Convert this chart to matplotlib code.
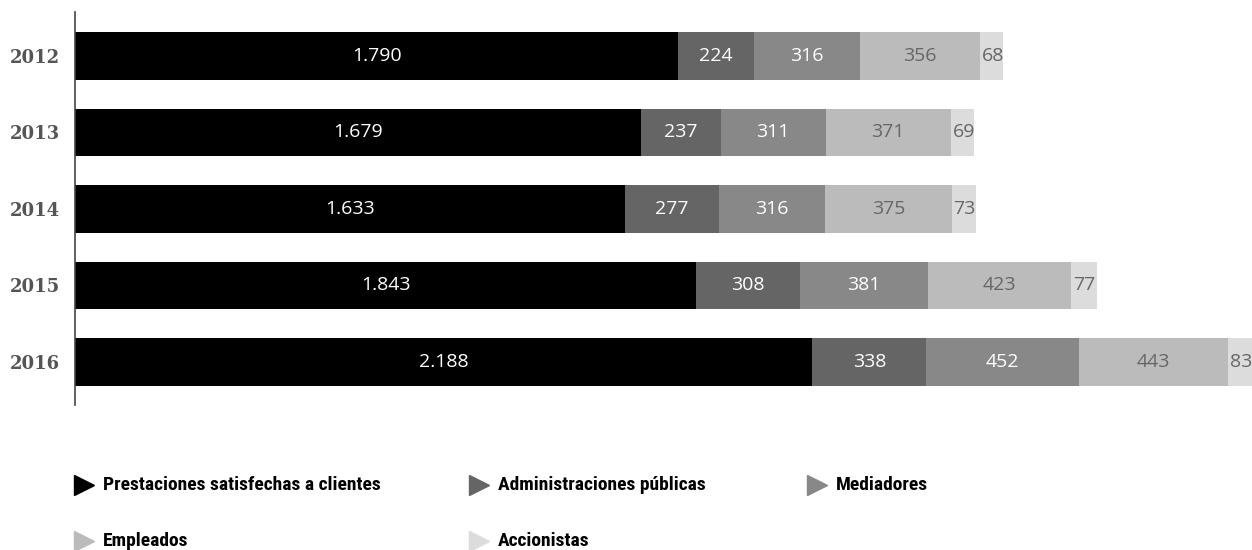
import matplotlib.pyplot as plt
import numpy as np

years = ["2012", "2013", "2014", "2015", "2016"]
categories = ["Prestaciones satisfechas a clientes", "Administraciones públicas",
              "Mediadores", "Empleados", "Accionistas"]
prestaciones = [1790, 1679, 1633, 1843, 2188]
administraciones = [224, 237, 277, 308, 338]
mediadores = [316, 311, 316, 381, 452]
empleados = [356, 371, 375, 423, 443]
accionistas = [68, 69, 73, 77, 83]

series = [prestaciones, administraciones, mediadores, empleados, accionistas]
colors = ["#000000", "#656565", "#888888", "#bbbbbb", "#dcdcdc"]
label_colors = ["white", "white", "white", "#666666", "#666666"]

W, H = 1252, 550
fig = plt.figure(figsize=(W / 100, H / 100), dpi=100)

# main axes: left spine at x=75px, spans y=12..405px
ax = fig.add_axes([75 / W, 1 - 405 / H, 1220 / W, 393 / H])
ax.set_xlim(0, 3620)
ax.set_ylim(4.565, -0.575)

y = np.arange(len(years))
left = np.zeros(len(years))
for k, vals in enumerate(series):
    vals = np.array(vals)
    ax.barh(y, vals, left=left, height=0.62, color=colors[k], linewidth=0)
    for i, v in enumerate(vals):
        txt = f"{v:,}".replace(",", ".")
        if k == len(series) - 1:
            ax.text(left[i] + 6, y[i], txt, ha="left", va="center",
                    color=label_colors[k], fontsize=14, family="Open Sans")
        else:
            ax.text(left[i] + v / 2, y[i], txt, ha="center", va="center",
                    color=label_colors[k], fontsize=14, family="Open Sans")
    left += vals

ax.set_yticks(y)
ax.set_yticklabels(years, fontsize=13, fontweight="bold", color="#555555",
                   family="DejaVu Serif")
ax.tick_params(axis="y", length=0, pad=11)
ax.set_xticks([])
for s in ["top", "right", "bottom"]:
    ax.spines[s].set_visible(False)
ax.spines["left"].set_color("#444444")
ax.spines["left"].set_linewidth(1.2)

# legend drawn by hand in pixel coordinates
lax = fig.add_axes([0, 0, 1, 1])
lax.set_xlim(0, W)
lax.set_ylim(H, 0)
lax.axis("off")
positions = [(84, 485), (479, 485), (817, 485), (84, 541), (479, 541)]
for k, (px, py) in enumerate(positions):
    lax.plot(px, py, marker=">", markersize=15, color=colors[k], linestyle="none")
    lax.text(px + 19, py, categories[k], ha="left", va="center", fontsize=14,
             fontweight="bold", color="black", family="Roboto Condensed")

fig.savefig("out.png", dpi=100)
